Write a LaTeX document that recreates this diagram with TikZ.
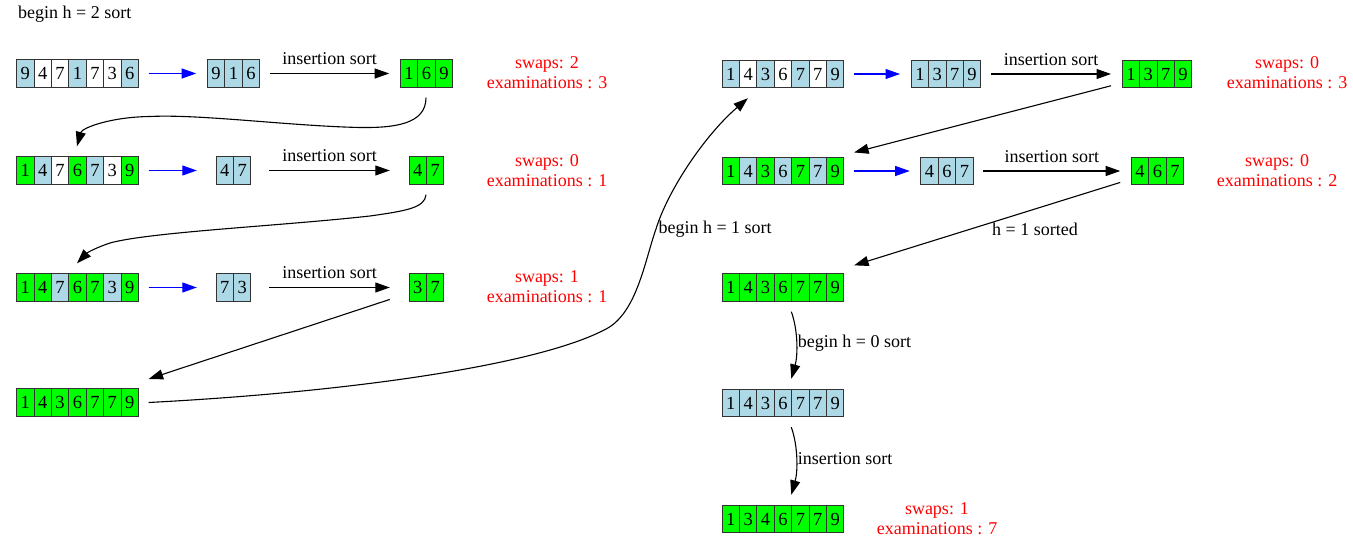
\documentclass[tikz,border=0pt]{standalone}
\usepackage{fontspec}
\setmainfont{Liberation Serif}
\usetikzlibrary{arrows.meta,positioning}
\definecolor{cellblue}{RGB}{173,216,230}
\definecolor{cellgreen}{RGB}{0,255,0}

\begin{document}
\begin{tikzpicture}[x=1pt, y=-1pt,
    every node/.style={font=\fontsize{18}{20}\selectfont},
    arraybox/.style={inner sep=0pt, minimum height=48pt},
    cell/.style={draw=black!80, line width=1pt, anchor=west, inner sep=0pt,
        minimum width=17.4pt, minimum height=27.5pt, font=\fontsize{18.5}{20}\selectfont},
    link/.style={-{Triangle[length=14.5pt,width=10pt]}, line width=1.1pt},
    pick/.style={link, blue},
    stats/.style={text=red, align=center}]

\useasboundingbox (0,0) rectangle (1353,548);

% Define array macro
% Arguments: name, center-x, center-y, number of cells, list of value/colour
\def\cellarray#1#2#3#4#5{
    \pgfmathsetmacro\boxw{max(72,#4*17.4+21)}
    \node[arraybox, minimum width=\boxw pt] (#1) at (#2,#3) {};
    \foreach \v/\col [count=\i] in {#5}
        \node[cell, fill=\col, xshift={(\i-1)*17.4pt-#4*8.7pt}] (#1-\i) at (#1.center) {\v};
}

\node[anchor=base west, inner sep=0pt] (title) at (18,19) {begin h = 2 sort};

% h = 2 pass (left column)
\cellarray{a1}{77}{73.5}{7}{9/cellblue,4/white,7/white,1/cellblue,7/white,3/white,6/cellblue}
\cellarray{a2}{233}{73.5}{3}{9/cellblue,1/cellblue,6/cellblue}
\cellarray{a3}{426}{73.5}{3}{1/cellgreen,6/cellgreen,9/cellgreen}
\node[stats] (a-stat) at (547,73) {swaps: 2\\examinations : 3};

\cellarray{b1}{77}{170.5}{7}{1/cellgreen,4/cellblue,7/white,6/cellgreen,7/cellblue,3/white,9/cellgreen}
\cellarray{b2}{233}{170.5}{2}{4/cellblue,7/cellblue}
\cellarray{b3}{426}{170.5}{2}{4/cellgreen,7/cellgreen}
\node[stats] (b-stat) at (547,171) {swaps: 0\\examinations : 1};

\cellarray{c1}{77}{287.5}{7}{1/cellgreen,4/cellgreen,7/cellblue,6/cellgreen,7/cellgreen,3/cellblue,9/cellgreen}
\cellarray{c2}{233}{287.5}{2}{7/cellblue,3/cellblue}
\cellarray{c3}{426}{287.5}{2}{3/cellgreen,7/cellgreen}
\node[stats] (c-stat) at (547,287) {swaps: 1\\examinations : 1};

\cellarray{d1}{77}{402.5}{7}{1/cellgreen,4/cellgreen,3/cellgreen,6/cellgreen,7/cellgreen,7/cellgreen,9/cellgreen}

% h = 1 and h = 0 passes (right column)
\cellarray{r1}{782.5}{74}{7}{1/cellblue,4/white,3/cellblue,6/white,7/cellblue,7/white,9/cellblue}
\cellarray{r1s}{945.5}{74}{4}{1/cellblue,3/cellblue,7/cellblue,9/cellblue}
\cellarray{r1t}{1156.5}{74}{4}{1/cellgreen,3/cellgreen,7/cellgreen,9/cellgreen}
\node[stats] (r1-stat) at (1287,73) {swaps: 0\\examinations : 3};

\cellarray{r2}{782.5}{171}{7}{1/cellgreen,4/cellblue,3/cellgreen,6/cellblue,7/cellgreen,7/cellblue,9/cellgreen}
\cellarray{r2s}{946.5}{171}{3}{4/cellblue,6/cellblue,7/cellblue}
\cellarray{r2t}{1157}{171}{3}{4/cellgreen,6/cellgreen,7/cellgreen}
\node[stats] (r2-stat) at (1277,171) {swaps: 0\\examinations : 2};

\cellarray{r3}{782.5}{287.5}{7}{1/cellgreen,4/cellgreen,3/cellgreen,6/cellgreen,7/cellgreen,7/cellgreen,9/cellgreen}
\cellarray{r4}{782.5}{403}{7}{1/cellblue,4/cellblue,3/cellblue,6/cellblue,7/cellblue,7/cellblue,9/cellblue}
\cellarray{r5}{782.5}{519}{7}{1/cellgreen,3/cellgreen,4/cellgreen,6/cellgreen,7/cellgreen,7/cellgreen,9/cellgreen}
\node[stats] (r5-stat) at (937,519) {swaps: 1\\examinations : 7};

% Connectors, left column
\draw[pick] (a1) -- (a2);
\draw[link] (a2) -- node[above=8pt, inner sep=0pt] (l1) {insertion sort} (a3);
\draw[link] (a3.south) .. controls (426,124) and (395,128) .. (360,127.5)
    .. controls (290,126) and (200,114) .. (150,116.5)
    .. controls (110,117) and (82,128) .. (b1.north);

\draw[pick] (b1) -- (b2);
\draw[link] (b2) -- node[above=8pt, inner sep=0pt] (l2) {insertion sort} (b3);
\draw[link] (b3.south) .. controls (425,208) and (405,211) .. (370,216)
    .. controls (280,226) and (150,232) .. (110,243)
    .. controls (98,247) and (88,252) .. (c1.north);

\draw[pick] (c1) -- (c2);
\draw[link] (c2) -- node[above=8pt, inner sep=0pt] (l3) {insertion sort} (c3);
\draw[link] (c3) -- (d1);

% Long jump to the right column
\draw[link] (d1.east) .. controls (350,392) and (540,365) .. (607,328.5)
    .. controls (637,312) and (645,260) .. (656,229)
    node[right, inner sep=2pt] (l4) {begin h = 1 sort}
    .. controls (668,190) and (705,135) .. (r1.215);

% Connectors, right column
\draw[pick] (r1) -- (r1s);
\draw[link] (r1s) -- node[above=8pt, inner sep=0pt] (l5) {insertion sort} (r1t);
\draw[link] (r1t) -- (r2);

\draw[pick] (r2) -- (r2s);
\draw[link] (r2s) -- node[above=8pt, inner sep=0pt] (l6) {insertion sort} (r2t);
\draw[link] (r2t) -- node[pos=0.32, below=13pt, inner sep=0pt] (l7) {h = 1 sorted} (r3);

\draw[link] (r3.-70) .. controls (798,330) and (798,355) ..
    node[right, inner sep=1pt] (l8) {begin h = 0 sort} (r4.70);
\draw[link] (r4.-70) .. controls (798,446) and (798,471) ..
    node[right, inner sep=1pt] (l9) {insertion sort} (r5.70);

\end{tikzpicture}
\end{document}
